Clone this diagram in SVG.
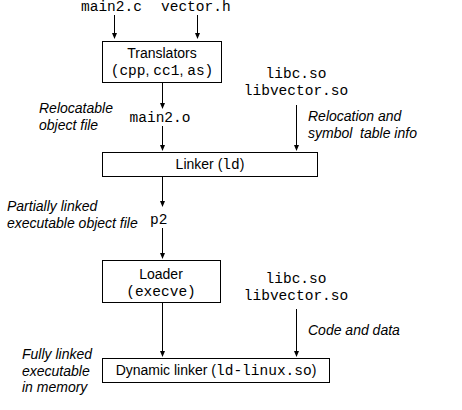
<svg xmlns="http://www.w3.org/2000/svg" width="462" height="410" viewBox="0 0 462 410">
<defs>
<marker id="ah" viewBox="0 0 6 6" markerWidth="6" markerHeight="6" refX="5" refY="3" orient="auto" markerUnits="userSpaceOnUse">
<path d="M0,0.5 L6,3 L0,5.5 Z" fill="#000"/>
</marker>
<style>
.box{fill:#fff;stroke:#000;stroke-width:1}
.ln{stroke:#000;stroke-width:1;fill:none}
.ar{marker-end:url(#ah)}
.s{font-family:"Liberation Sans",Arial,sans-serif;font-size:14px;fill:#000}
.i{font-family:"Liberation Sans",Arial,sans-serif;font-size:14px;font-style:italic;fill:#000}
.m{font-family:"Liberation Mono","Courier New",monospace;font-size:14.5px;fill:#000}
.c{text-anchor:middle}
</style>
</defs>
<rect width="462" height="410" fill="#fff"/>
<g id="connectors">
<line class="ln ar" x1="114.5" y1="15" x2="114.5" y2="38"/>
<line class="ln ar" x1="197.5" y1="15" x2="197.5" y2="38"/>
<line class="ln ar" x1="162.5" y1="82" x2="162.5" y2="108"/>
<line class="ln ar" x1="162.5" y1="126" x2="162.5" y2="150"/>
<line class="ln ar" x1="296.5" y1="105" x2="296.5" y2="150"/>
<line class="ln ar" x1="162.5" y1="176" x2="162.5" y2="206"/>
<line class="ln ar" x1="162.5" y1="228" x2="162.5" y2="258"/>
<line class="ln ar" x1="162.5" y1="302" x2="162.5" y2="356"/>
<line class="ln ar" x1="296.5" y1="309" x2="296.5" y2="356"/>
</g>
<g id="inputs">
<text class="m" x="81" y="11">main2.c</text>
<text class="m" x="161" y="11">vector.h</text>
</g>
<g id="translators">
<rect class="box" x="102.5" y="41.5" width="119" height="41"/>
<text class="s c" x="162" y="58">Translators</text>
<text class="m c" x="162" y="75">(cpp<tspan class="s">, </tspan>cc1<tspan class="s">, </tspan>as)</text>
</g>
<g id="libs1">
<text class="m c" x="296" y="78">libc.so</text>
<text class="m c" x="296" y="95">libvector.so</text>
</g>
<g id="main2o">
<text class="m c" x="160" y="122">main2.o</text>
</g>
<g id="label-relocatable">
<text class="i" x="39" y="113">Relocatable</text>
<text class="i" x="39" y="130">object file</text>
</g>
<g id="label-relocation">
<text class="i" x="308" y="121">Relocation and</text>
<text class="i" x="308" y="138" xml:space="preserve">symbol  table info</text>
</g>
<g id="linker">
<rect class="box" x="102.5" y="152.5" width="215" height="24"/>
<text class="s c" x="210" y="169">Linker (<tspan class="m">ld</tspan>)</text>
</g>
<g id="p2">
<text class="m" x="150" y="224">p2</text>
</g>
<g id="label-partial">
<text class="i" x="7" y="211">Partially linked</text>
<text class="i" x="7" y="228">executable object file</text>
</g>
<g id="loader">
<rect class="box" x="102.5" y="260.5" width="118" height="42"/>
<text class="s c" x="161" y="279">Loader</text>
<text class="m c" x="161" y="296">(execve)</text>
</g>
<g id="libs2">
<text class="m c" x="296" y="283">libc.so</text>
<text class="m c" x="296" y="300">libvector.so</text>
</g>
<g id="label-code">
<text class="i" x="308" y="335">Code and data</text>
</g>
<g id="dynlinker">
<rect class="box" x="102.5" y="358.5" width="227" height="24"/>
<text class="s c" x="216" y="375">Dynamic linker (<tspan class="m">ld-linux.so</tspan>)</text>
</g>
<g id="label-full">
<text class="i" x="22" y="359">Fully linked</text>
<text class="i" x="22" y="376">executable</text>
<text class="i" x="22" y="392">in memory</text>
</g>
</svg>
